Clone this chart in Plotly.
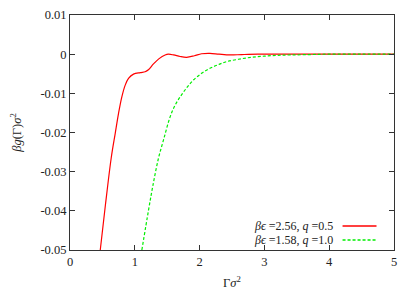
import plotly.graph_objects as go

# Series 1: beta*eps = 2.56, q = 0.5
red_x = [0.467, 0.545, 0.636, 0.698, 0.749, 0.80, 0.852, 0.903, 0.98, 1.083, 1.16, 1.21, 1.288, 1.37, 1.468, 1.52,
         1.60, 1.70, 1.80, 1.92, 2.03, 2.16, 2.30, 2.47, 2.65, 2.9, 3.2, 3.6, 4.0, 4.5, 5.0]
red_y = [-0.05, -0.0387, -0.0265, -0.0202, -0.0151, -0.0109, -0.0079, -0.0062, -0.0051, -0.0047, -0.0045, -0.0040,
         -0.0025, -0.0012, -0.0002, 0.0, -0.0002, -0.0006, -0.0008, -0.0004, 0.0001, 0.0002, 0.0, -0.0002, -0.0001,
         0.0, 0.0, 0.0, 0.0, 0.0, 0.0]

# Series 2: beta*eps = 1.58, q = 1.0
green_x = [1.109, 1.212, 1.28, 1.365, 1.443, 1.545, 1.62, 1.70, 1.80, 1.905, 2.03, 2.16, 2.30, 2.42, 2.60, 2.80,
           3.0, 3.2, 3.4, 3.7, 4.0, 4.5, 5.0]
green_y = [-0.05, -0.0398, -0.0335, -0.0266, -0.0219, -0.016, -0.0131, -0.0109, -0.0086, -0.0066, -0.0049, -0.0036,
           -0.0026, -0.0019, -0.0013, -0.0008, -0.0005, -0.0003, -0.0002, -0.0001, 0.0, 0.0, 0.0]

labels = ["<i>βϵ</i> =2.56, <i>q</i> =0.5", "<i>βϵ</i> =1.58, <i>q</i> =1.0"]
colors = ["#ff0000", "#00ee00"]

x_ticks = [0, 1, 2, 3, 4, 5]
y_ticks = [0.01, 0, -0.01, -0.02, -0.03, -0.04, -0.05]
y_tick_text = ["0.01", "0", "-0.01", "-0.02", "-0.03", "-0.04", "-0.05"]

FONT = "Liberation Serif"
TXT = "#222222"

fig = go.Figure()
fig.add_trace(go.Scatter(x=red_x, y=red_y, mode="lines", name=labels[0],
                         line=dict(color=colors[0], width=1.2, shape="spline", smoothing=1.0)))
fig.add_trace(go.Scatter(x=green_x, y=green_y, mode="lines", name=labels[1],
                         line=dict(color=colors[1], width=1.2, dash="3px,2px", shape="spline", smoothing=1.0)))

axis_common = dict(showline=True, linecolor="#333333", linewidth=1, mirror="ticks", ticks="inside",
                   ticklen=5, tickcolor="#333333", showgrid=False, zeroline=False, automargin=False,
                   tickfont=dict(family=FONT, size=12.5, color=TXT))

fig.update_xaxes(range=[0, 5], tickvals=x_ticks, ticktext=[str(v) for v in x_ticks],
                 title=dict(text="Γ<i>σ</i><sup>2</sup>", font=dict(family=FONT, size=12.5, color=TXT),
                            standoff=10),
                 **axis_common)
fig.update_yaxes(range=[-0.05, 0.01], tickvals=y_ticks, ticktext=y_tick_text,
                 title=dict(text="<i>βg</i>(Γ)<i>σ</i><sup>2</sup>", font=dict(family=FONT, size=12.5, color=TXT),
                            standoff=19),
                 **axis_common)

# gnuplot-style legend: text right-aligned, sample line to its right
legend_rows_y = [-0.04387, -0.04745]
for lab, col, yy, dash in zip(labels, colors, legend_rows_y, ["solid", "3px,2px"]):
    fig.add_annotation(x=4.077, y=yy, xref="x", yref="y", text=lab, showarrow=False,
                       xanchor="right", yanchor="middle", borderpad=0,
                       font=dict(family=FONT, size=12, color=TXT))
    fig.add_shape(type="line", x0=4.206, x1=4.73, y0=yy, y1=yy, xref="x", yref="y",
                  line=dict(color=col, width=1.4, dash=dash))

# page has an 8px body margin; figure sized so the plot lands where the reference has it
fig.update_layout(width=407, height=283, margin=dict(l=62, r=21, t=7, b=41),
                  paper_bgcolor="white", plot_bgcolor="white", showlegend=False,
                  font=dict(family=FONT, size=12.5, color=TXT))

fig.write_html("out.html")
